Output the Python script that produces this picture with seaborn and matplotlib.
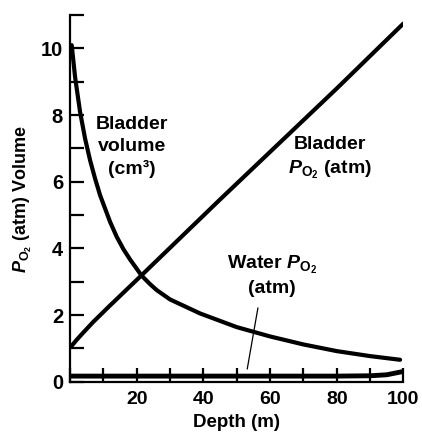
import numpy as np
import pandas as pd
import matplotlib
matplotlib.use("Agg")
import matplotlib.pyplot as plt
import seaborn as sns

# values
volume_depth = [0.5, 1.5, 3, 4.5, 6, 7.5, 9, 12, 14, 16, 18, 21.5, 24, 26, 30, 39, 50, 60, 70, 80, 90, 99]
volume_cm3 = [10.1, 9.15, 8.1, 7.3, 6.65, 6.1, 5.6, 4.8, 4.35, 3.98, 3.67, 3.18, 2.93, 2.75, 2.47, 2.05, 1.64, 1.36, 1.12, 0.92, 0.77, 0.66]

bladder_depth = [0.5, 2, 4, 7, 12, 21.5, 45, 80, 100]
bladder_po2 = [1.08, 1.26, 1.48, 1.8, 2.29, 3.2, 5.47, 8.8, 10.75]

water_depth = [0, 20, 40, 60, 80, 90, 95, 98, 100]
water_po2 = [0.17, 0.17, 0.17, 0.17, 0.17, 0.18, 0.21, 0.27, 0.31]

sns.set_style("ticks")
plt.rcParams["font.family"] = ["Liberation Sans", "DejaVu Sans"]
plt.rcParams["font.weight"] = "bold"
plt.rcParams["text.color"] = "black"
plt.rcParams["axes.labelcolor"] = "black"
plt.rcParams["xtick.color"] = "black"
plt.rcParams["ytick.color"] = "black"
plt.rcParams["mathtext.fontset"] = "custom"
plt.rcParams["mathtext.rm"] = "Liberation Sans:bold"
plt.rcParams["mathtext.it"] = "Liberation Sans:italic:bold"

vol = pd.DataFrame({"Depth": volume_depth, "Value": volume_cm3})
bl = pd.DataFrame({"Depth": bladder_depth, "Value": bladder_po2})
wa = pd.DataFrame({"Depth": water_depth, "Value": water_po2})

fig = plt.figure(figsize=(4.22, 4.46), dpi=100)
ax = fig.add_axes([0.166, 0.144, 0.79, 0.822])

sns.lineplot(data=vol, x="Depth", y="Value", color="black", linewidth=3, ax=ax)
sns.lineplot(data=bl, x="Depth", y="Value", color="black", linewidth=3, ax=ax)
sns.lineplot(data=wa, x="Depth", y="Value", color="black", linewidth=3.5, ax=ax)

ax.set_xlim(0, 100)
ax.set_ylim(0, 11)
ax.set_xticks([20, 40, 60, 80, 100])
ax.set_xticks([0, 10, 30, 50, 70, 90], minor=True)
ax.set_yticks([0, 2, 4, 6, 8, 10])
ax.set_yticks([1, 3, 5, 7, 9, 11], minor=True)
ax.tick_params(which="both", direction="in", length=10, width=1.6, colors="black")
ax.tick_params(axis="x", which="both", labelsize=14, pad=7)
ax.tick_params(axis="y", which="both", labelsize=14.5, pad=5)

sns.despine(ax=ax)
for s in ["left", "bottom"]:
    ax.spines[s].set_linewidth(1.6)
    ax.spines[s].set_color("black")

ax.set_xlabel("Depth (m)", fontsize=13.5, fontweight="bold", labelpad=4)
ax.set_ylabel(r"$P_{\mathrm{O_2}}$ (atm) Volume", fontsize=13, fontweight="bold", labelpad=5)

ax.text(18.5, 7.05, "Bladder\nvolume\n(cm\u00b3)", ha="center", va="center",
        fontsize=14, linespacing=1.35)
ax.text(78, 6.7, "Bladder\n" + r"$P_{\mathrm{O_2}}$" + " (atm)", ha="center", va="center",
        fontsize=14, linespacing=1.35)
ax.text(60.5, 3.18, "Water " + r"$P_{\mathrm{O_2}}$" + "\n(atm)", ha="center", va="center",
        fontsize=14, linespacing=1.3)
ax.annotate("", xy=(53, 0.3), xytext=(56.5, 2.3),
            arrowprops=dict(arrowstyle="-", color="black", linewidth=0.9))

plt.savefig("out.png", dpi=100)
